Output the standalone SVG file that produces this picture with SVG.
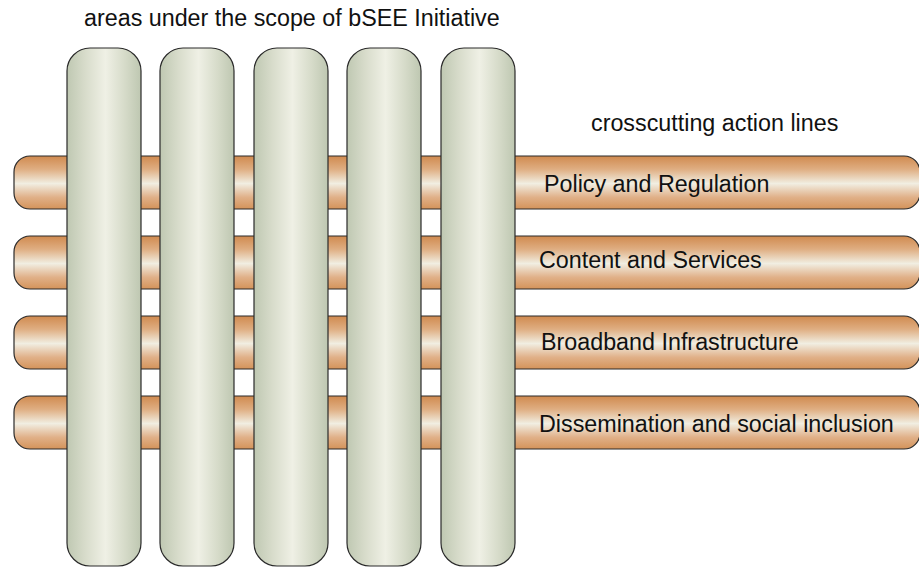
<svg xmlns="http://www.w3.org/2000/svg" width="919" height="567" viewBox="0 0 919 567">
<style>
.bar{fill:url(#gBar);stroke:#2a2a2a;stroke-width:1.2}
.pil{fill:url(#gPil);stroke:#2a2a2a;stroke-width:1.2}
text{font-family:"Liberation Sans",Arial,sans-serif;font-size:23.3px;fill:#111}
</style>
<defs>
<linearGradient id="gBar" x1="0" y1="0" x2="0" y2="1">
<stop offset="0" stop-color="#d08a4f"/>
<stop offset="0.25" stop-color="#dfae82"/>
<stop offset="0.52" stop-color="#f1eee2"/>
<stop offset="0.78" stop-color="#e0b088"/>
<stop offset="1" stop-color="#d4935a"/>
</linearGradient>
<linearGradient id="gPil" x1="0" y1="0" x2="1" y2="0">
<stop offset="0" stop-color="#bfc8b2"/>
<stop offset="0.25" stop-color="#d8dccb"/>
<stop offset="0.52" stop-color="#eff0e5"/>
<stop offset="0.78" stop-color="#d6dbc9"/>
<stop offset="1" stop-color="#bec7b1"/>
</linearGradient>
</defs>
<rect width="919" height="567" fill="#fff"/>
<text x="84" y="26">areas under the scope of bSEE Initiative</text>
<text x="591" y="131">crosscutting action lines</text>
<g id="bar-policy"><rect class="bar" x="14" y="156" width="906" height="53" rx="16"/><text x="544" y="192">Policy and Regulation</text></g>
<g id="bar-content"><rect class="bar" x="14" y="236" width="906" height="53" rx="16"/><text x="539" y="268">Content and Services</text></g>
<g id="bar-broadband"><rect class="bar" x="14" y="316" width="906" height="53" rx="16"/><text x="541" y="350">Broadband Infrastructure</text></g>
<g id="bar-dissemination"><rect class="bar" x="14" y="396" width="906" height="53" rx="16"/><text x="539" y="432">Dissemination and social inclusion</text></g>
<g id="area-1"><rect class="pil" x="67" y="48" width="74" height="518" rx="23"/></g>
<g id="area-2"><rect class="pil" x="160" y="48" width="74" height="518" rx="23"/></g>
<g id="area-3"><rect class="pil" x="254" y="48" width="74" height="518" rx="23"/></g>
<g id="area-4"><rect class="pil" x="347" y="48" width="74" height="518" rx="23"/></g>
<g id="area-5"><rect class="pil" x="441" y="48" width="74" height="518" rx="23"/></g>
<g id="connectors"/>
</svg>
